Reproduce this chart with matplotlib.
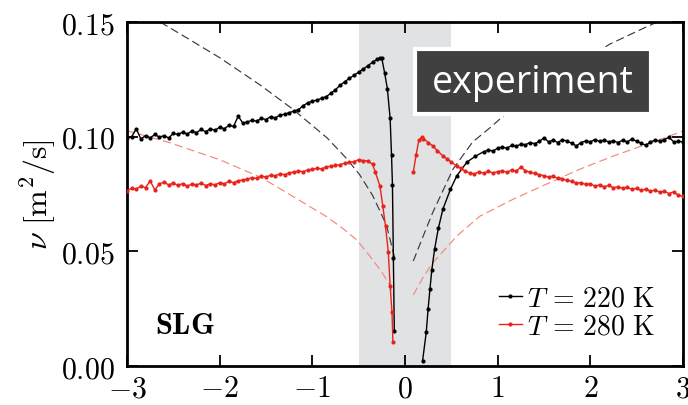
import numpy as np
import matplotlib
matplotlib.use("Agg")
import matplotlib.pyplot as plt
from matplotlib.patches import Rectangle

plt.rcParams['mathtext.fontset'] = 'cm'
plt.rcParams['font.family'] = ['DejaVu Serif']

# ---- measured diffusivity, T = 220 K ----
x220_left = [-3.00, -2.95, -2.90, -2.85, -2.80, -2.75, -2.70, -2.65, -2.60, -2.55,
             -2.50, -2.45, -2.40, -2.35, -2.30, -2.25, -2.20, -2.15, -2.10, -2.05,
             -2.00, -1.95, -1.90, -1.85, -1.80, -1.75, -1.70, -1.65, -1.60, -1.55,
             -1.50, -1.45, -1.40, -1.35, -1.30, -1.25, -1.20, -1.15, -1.10, -1.05,
             -1.00, -0.95, -0.90, -0.85, -0.80, -0.75, -0.70, -0.65, -0.60, -0.55,
             -0.50, -0.45, -0.40, -0.35, -0.30, -0.27, -0.25, -0.22, -0.19, -0.16,
             -0.145, -0.135, -0.125, -0.115]
v220_left = [0.0995, 0.1000, 0.1035, 0.0990, 0.1005, 0.0995, 0.1010, 0.0998, 0.1005, 0.0995,
             0.1015, 0.1010, 0.1020, 0.1012, 0.1025, 0.1018, 0.1032, 0.1022, 0.1035, 0.1028,
             0.1042, 0.1035, 0.1050, 0.1045, 0.1090, 0.1060, 0.1065, 0.1072, 0.1068, 0.1080,
             0.1075, 0.1088, 0.1082, 0.1095, 0.1098, 0.1105, 0.1112, 0.1118, 0.1135, 0.1148,
             0.1155, 0.1160, 0.1168, 0.1175, 0.1190, 0.1205, 0.1225, 0.1240, 0.1255, 0.1268,
             0.1282, 0.1295, 0.1310, 0.1325, 0.1338, 0.1345, 0.1342, 0.1280, 0.1210, 0.1080,
             0.0920, 0.0790, 0.0470, 0.0153]

x220_right = [0.19, 0.23, 0.25, 0.27, 0.29, 0.32, 0.36, 0.41, 0.49, 0.56,
              0.67, 0.76, 0.85, 0.90, 0.95, 1.00, 1.05, 1.10, 1.15, 1.20,
              1.25, 1.30, 1.35, 1.40, 1.45, 1.50, 1.55, 1.60, 1.65, 1.70,
              1.75, 1.80, 1.85, 1.90, 1.95, 2.00, 2.05, 2.10, 2.15, 2.20,
              2.25, 2.30, 2.35, 2.40, 2.45, 2.50, 2.55, 2.60, 2.65, 2.70,
              2.75, 2.80, 2.85, 2.90, 2.95, 3.00]
v220_right = [0.0022, 0.0148, 0.0250, 0.0336, 0.0420, 0.0510, 0.0600, 0.0685, 0.0770, 0.0830,
              0.0890, 0.0915, 0.0935, 0.0942, 0.0938, 0.0950, 0.0955, 0.0950, 0.0962, 0.0958,
              0.0968, 0.0965, 0.0975, 0.0970, 0.0980, 0.0995, 0.0978, 0.0985, 0.0975, 0.0988,
              0.0980, 0.0972, 0.0960, 0.0975, 0.0982, 0.0978, 0.0988, 0.0980, 0.0985, 0.0978,
              0.0982, 0.0975, 0.0985, 0.0978, 0.0990, 0.0980, 0.0972, 0.0962, 0.0978, 0.0985,
              0.0980, 0.0988, 0.0998, 0.0978, 0.0980, 0.0978]

# ---- measured diffusivity, T = 280 K ----
x280_left = [-3.00, -2.95, -2.90, -2.85, -2.80, -2.75, -2.70, -2.65, -2.60, -2.55,
             -2.50, -2.45, -2.40, -2.35, -2.30, -2.25, -2.20, -2.15, -2.10, -2.05,
             -2.00, -1.95, -1.90, -1.85, -1.80, -1.75, -1.70, -1.65, -1.60, -1.55,
             -1.50, -1.45, -1.40, -1.35, -1.30, -1.25, -1.20, -1.15, -1.10, -1.05,
             -1.00, -0.95, -0.90, -0.85, -0.80, -0.75, -0.70, -0.65, -0.60, -0.55,
             -0.50, -0.45, -0.40, -0.35, -0.32, -0.27, -0.24, -0.21, -0.18, -0.16,
             -0.14, -0.13]
v280_left = [0.0765, 0.0775, 0.0772, 0.0785, 0.0778, 0.0808, 0.0768, 0.0795, 0.0802, 0.0790,
             0.0798, 0.0788, 0.0796, 0.0785, 0.0794, 0.0790, 0.0798, 0.0787, 0.0795, 0.0790,
             0.0800, 0.0795, 0.0805, 0.0800, 0.0808, 0.0812, 0.0815, 0.0822, 0.0818, 0.0828,
             0.0825, 0.0832, 0.0830, 0.0838, 0.0835, 0.0842, 0.0846, 0.0850, 0.0848, 0.0855,
             0.0858, 0.0862, 0.0860, 0.0868, 0.0872, 0.0875, 0.0878, 0.0885, 0.0888, 0.0892,
             0.0900, 0.0896, 0.0895, 0.0880, 0.0846, 0.0785, 0.0700, 0.0610, 0.0497, 0.0350,
             0.0235, 0.0105]

x280_right = [0.09, 0.12, 0.15, 0.18, 0.20, 0.25, 0.30, 0.35, 0.41, 0.45,
              0.50, 0.56, 0.60, 0.65, 0.70, 0.75, 0.80, 0.85, 0.90, 0.95,
              1.00, 1.05, 1.10, 1.15, 1.20, 1.25, 1.30, 1.35, 1.40, 1.45,
              1.50, 1.55, 1.60, 1.65, 1.70, 1.75, 1.80, 1.85, 1.90, 1.95,
              2.00, 2.05, 2.10, 2.15, 2.20, 2.25, 2.30, 2.35, 2.40, 2.45,
              2.50, 2.55, 2.60, 2.65, 2.70, 2.75, 2.80, 2.85, 2.90, 2.95,
              3.00]
v280_right = [0.0846, 0.0920, 0.0985, 0.0999, 0.0992, 0.0975, 0.0960, 0.0940, 0.0916, 0.0905,
              0.0890, 0.0872, 0.0862, 0.0850, 0.0842, 0.0838, 0.0848, 0.0840, 0.0850, 0.0842,
              0.0848, 0.0852, 0.0845, 0.0855, 0.0850, 0.0868, 0.0852, 0.0845, 0.0840, 0.0835,
              0.0830, 0.0825, 0.0828, 0.0818, 0.0815, 0.0810, 0.0805, 0.0798, 0.0800, 0.0792,
              0.0795, 0.0785, 0.0790, 0.0782, 0.0788, 0.0778, 0.0782, 0.0775, 0.0780, 0.0770,
              0.0775, 0.0766, 0.0772, 0.0762, 0.0768, 0.0758, 0.0762, 0.0752, 0.0760, 0.0745,
              0.0740]

# ---- model curves (dashed) ----
xm220_left = [-2.64, -2.37, -2.00, -1.56, -1.21, -0.84, -0.63, -0.49, -0.35, -0.20, -0.11]
vm220_left = [0.150, 0.1435, 0.1345, 0.1225, 0.112, 0.0995, 0.0905, 0.0835, 0.0745, 0.0615, 0.047]
xm220_right = [0.09, 0.20, 0.30, 0.52, 0.73, 0.92, 1.20, 1.56, 2.00, 2.21, 2.61, 2.72]
vm220_right = [0.0458, 0.057, 0.067, 0.086, 0.0977, 0.104, 0.114, 0.125, 0.135, 0.1404, 0.148, 0.150]

xm280_left = [-3.00, -2.94, -2.56, -2.00, -1.69, -1.56, -1.21, -0.84, -0.67, -0.52, -0.38, -0.25, -0.16, -0.13]
vm280_left = [0.1025, 0.102, 0.0977, 0.090, 0.0846, 0.0824, 0.074, 0.065, 0.060, 0.055, 0.048, 0.041, 0.035, 0.031]
xm280_right = [0.09, 0.20, 0.30, 0.56, 0.81, 1.17, 1.53, 1.89, 2.25, 2.61, 2.97, 3.00]
vm280_right = [0.031, 0.039, 0.045, 0.0567, 0.0654, 0.0728, 0.0794, 0.0859, 0.0916, 0.0968, 0.102, 0.1025]

xticks = [-3, -2, -1, 0, 1, 2, 3]
yticks = [0.00, 0.05, 0.10, 0.15]

BLACK = '#000000'
RED = '#e8231b'
SALMON = '#f28a78'

fig = plt.figure(figsize=(6.88, 4.06), dpi=100)
ax = fig.add_axes([0.1846, 0.096, 0.808, 0.847])

ax.axvspan(-0.5, 0.5, color='#e1e2e4', zorder=0, lw=0)

# model curves
for xs, vs, c in [(xm220_left, vm220_left, '#3a3a3a'), (xm220_right, vm220_right, '#3a3a3a'),
                  (xm280_left, vm280_left, SALMON), (xm280_right, vm280_right, SALMON)]:
    ax.plot(xs, vs, color=c, lw=0.85, dashes=(7, 3.5), zorder=2)

# measurements
kw = dict(lw=1.0, marker='.', ms=4, zorder=3)
l1, = ax.plot(x220_left, v220_left, color=BLACK, **kw)
ax.plot(x220_right, v220_right, color=BLACK, **kw)
l2, = ax.plot(x280_left, v280_left, color=RED, **kw)
ax.plot(x280_right, v280_right, color=RED, **kw)

ax.set_xlim(-3, 3)
ax.set_ylim(0, 0.15)
ax.set_xticks(xticks)
ax.set_xticklabels([f'${t}$' if t >= 0 else f'$-{abs(t)}$' for t in xticks])
ax.set_yticks(yticks)
ax.set_yticklabels([f'${t:.2f}$' for t in yticks])
ax.tick_params(direction='in', length=8, width=1.3, top=True, right=True,
               labelsize=21.5)
ax.tick_params(axis='x', pad=6)
ax.tick_params(axis='y', pad=9)
for s in ax.spines.values():
    s.set_linewidth(2.0)

ax.set_ylabel(r'$\nu\ [\mathrm{m}^2/\mathrm{s}]$', fontsize=23, labelpad=2)

ax.text(0.05, 0.122, r'$\mathbf{SLG}$', transform=ax.transAxes, fontsize=22,
        ha='left', va='center')

leg = ax.legend([l1, l2], [r'$T\,=\,220\ \mathrm{K}$', r'$T\,=\,280\ \mathrm{K}$'],
                loc='lower right', bbox_to_anchor=(0.985, 0.02), frameon=False,
                fontsize=20, handlelength=0.8, handletextpad=0.2,
                labelspacing=0.05, borderaxespad=0.3)

# annotation box
box = Rectangle((0.518, 0.733), 0.424, 0.188, transform=ax.transAxes,
                facecolor='#404040', edgecolor='white', lw=3, zorder=5)
ax.add_patch(box)
ax.text(0.730, 0.827, 'experiment', transform=ax.transAxes, color='white',
        fontsize=27, family='Open Sans', ha='center', va='center', zorder=6)

fig.savefig('out.png', dpi=100)
